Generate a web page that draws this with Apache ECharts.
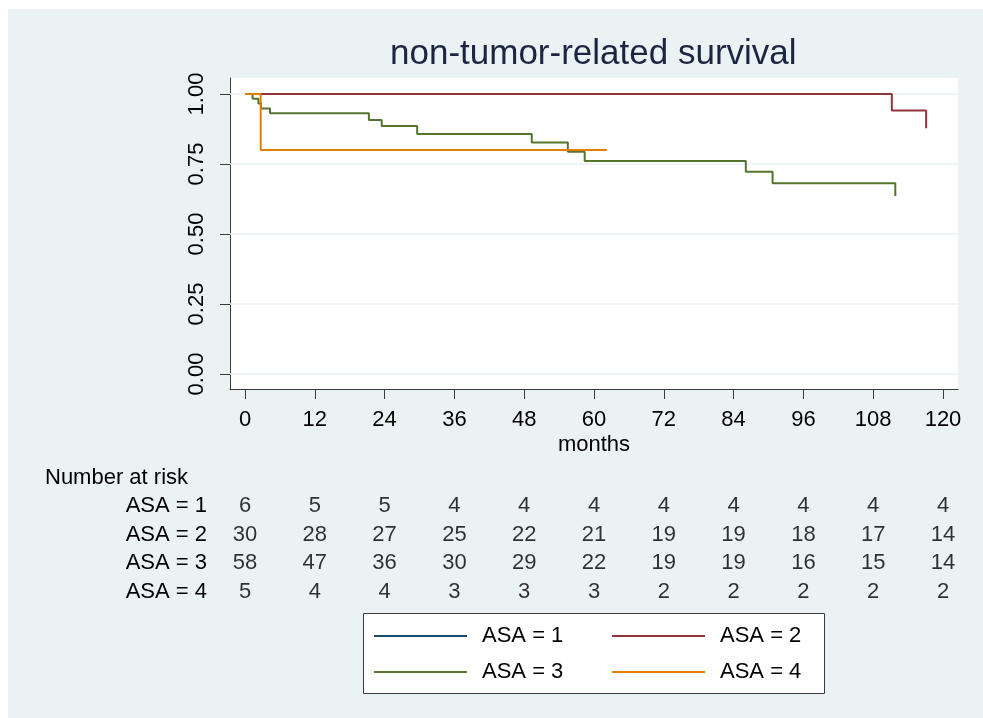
<!DOCTYPE html>
<html>
<head>
<meta charset="utf-8">
<script src="https://cdn.jsdelivr.net/npm/echarts/dist/echarts.min.js"></script>
<style>
html,body{margin:0;padding:0;background:#ffffff;}
#c{position:absolute;left:8px;top:9px;width:975px;height:709px;}
</style>
</head>
<body>
<div id="c"></div>
<script>
// ---- data ----
const groups = ['ASA = 1', 'ASA = 2', 'ASA = 3', 'ASA = 4'];
const asa1Time = [0, 110];
const asa1Surv = [1, 1];
const asa2Time = [0, 111.2, 117.1];
const asa2Surv = [1, 0.941, 0.878];
const asa3Time = [0, 1.3, 2.3, 2.75, 4.3, 21.3, 23.5, 29.6, 49.3, 55.5, 58.4, 86.1, 90.7, 111.8];
const asa3Surv = [1, 0.983, 0.966, 0.948, 0.931, 0.907, 0.886, 0.857, 0.827, 0.794, 0.761, 0.722, 0.681, 0.636];
const asa4Time = [0, 2.7, 62.2];
const asa4Surv = [1, 0.8, 0.8];
const xTicks = [0, 12, 24, 36, 48, 60, 72, 84, 96, 108, 120];
const yTicks = [0, 0.25, 0.5, 0.75, 1];
const riskAsa1 = [6, 5, 5, 4, 4, 4, 4, 4, 4, 4, 4];
const riskAsa2 = [30, 28, 27, 25, 22, 21, 19, 19, 18, 17, 14];
const riskAsa3 = [58, 47, 36, 30, 29, 22, 19, 19, 16, 15, 14];
const riskAsa4 = [5, 4, 4, 3, 3, 3, 2, 2, 2, 2, 2];
const titleText = 'non-tumor-related survival';
const xName = 'months';
const riskTitle = 'Number at risk';

// ---- style ----
const colors = ['#1a476f', '#90353b', '#55752f', '#e37e00'];
const FF = 'Liberation Sans, Arial, sans-serif';
const X_MIN = -2.579, X_MAX = 122.579;
const Y_MIN = -0.0536, Y_MAX = 1.0571;

const times = [asa1Time, asa2Time, asa3Time, asa4Time];
const survs = [asa1Surv, asa2Surv, asa3Surv, asa4Surv];
const risks = [riskAsa1, riskAsa2, riskAsa3, riskAsa4];

const chart = echarts.init(document.getElementById('c'), null, {renderer: 'canvas'});

const series = [];
groups.forEach((g, k) => {
  const s = {
    name: g,
    type: 'line',
    xAxisIndex: 0, yAxisIndex: 0,
    step: 'end',
    symbol: 'none',
    showSymbol: false,
    clip: false,
    z: 3,
    lineStyle: {color: colors[k], width: 2},
    itemStyle: {color: colors[k]},
    data: times[k].map((t, i) => [t, survs[k][i]])
  };
  if (k === 0) {
    s.markLine = {
      silent: true,
      z: 1,
      symbol: ['none', 'none'],
      label: {show: false},
      lineStyle: {color: '#eaf2f3', width: 1.5, type: 'solid'},
      emphasis: {disabled: true},
      data: yTicks.map(v => ({yAxis: v}))
    };
  }
  series.push(s);
});

risks.forEach((r, k) => {
  series.push({
    name: 'risk' + (k + 1),
    type: 'scatter',
    xAxisIndex: 1, yAxisIndex: 1,
    symbolSize: 1,
    itemStyle: {color: 'rgba(0,0,0,0)'},
    silent: true,
    label: {
      show: true, position: 'inside',
      formatter: p => String(p.value[2]),
      fontSize: 22, fontFamily: FF, color: '#000'
    },
    data: xTicks.map((t, i) => [t, groups[k], r[i]])
  });
});

const legendCommon = {
  orient: 'vertical',
  top: 615,
  itemGap: 12,
  itemWidth: 93,
  itemHeight: 2,
  icon: 'rect',
  padding: 0,
  selectedMode: false,
  textStyle: {fontSize: 22, lineHeight: 24, color: '#000', fontFamily: FF, padding: [0, 0, 0, 10]}
};

const option = {
  animation: false,
  backgroundColor: '#eaf2f3',
  title: [
    {text: titleText, left: 382, top: 28, padding: 0,
     textStyle: {fontSize: 35, fontWeight: 'normal', color: '#1c2541', fontFamily: FF}},
    {text: riskTitle, left: 37, top: 458, padding: 0,
     textStyle: {fontSize: 22, fontWeight: 'normal', color: '#000', fontFamily: FF}}
  ],
  legend: [
    Object.assign({}, legendCommon, {left: 366, data: [groups[0], groups[2]]}),
    Object.assign({}, legendCommon, {left: 604, data: [groups[1], groups[3]]})
  ],
  graphic: [{
    type: 'rect', z: 1,
    shape: {x: 355.5, y: 604.5, width: 461, height: 80},
    style: {fill: '#ffffff', stroke: '#3a3a3a', lineWidth: 1}
  }],
  grid: [
    {left: 222, top: 69, width: 728, height: 311, show: true, backgroundColor: '#ffffff', borderWidth: 0},
    {left: 222, top: 483, width: 728, height: 114, show: false}
  ],
  xAxis: [
    {type: 'value', gridIndex: 0, min: X_MIN, max: X_MAX,
     name: xName, nameLocation: 'middle', nameGap: 45,
     nameTextStyle: {fontSize: 22, color: '#000', fontFamily: FF},
     axisLine: {show: true, onZero: false, lineStyle: {color: '#3a3a3a', width: 1}},
     axisTick: {show: true, length: 10, customValues: xTicks, lineStyle: {color: '#3a3a3a'}},
     axisLabel: {show: true, customValues: xTicks, margin: 20, fontSize: 22, color: '#000', fontFamily: FF, hideOverlap: false},
     splitLine: {show: false}},
    {type: 'value', gridIndex: 1, min: X_MIN, max: X_MAX, show: false}
  ],
  yAxis: [
    {type: 'value', gridIndex: 0, min: Y_MIN, max: Y_MAX,
     axisLine: {show: true, onZero: false, lineStyle: {color: '#3a3a3a', width: 1}},
     axisTick: {show: true, length: 10, customValues: yTicks, lineStyle: {color: '#3a3a3a'}},
     axisLabel: {show: true, customValues: yTicks, rotate: 90, margin: 22, fontSize: 22, color: '#000', fontFamily: FF,
                 formatter: v => Number(v).toFixed(2), hideOverlap: false},
     splitLine: {show: false}},
    {type: 'category', gridIndex: 1, data: groups, inverse: true,
     axisLine: {show: false}, axisTick: {show: false}, splitLine: {show: false},
     axisLabel: {show: true, interval: 0, margin: 23, fontSize: 22, color: '#000', fontFamily: FF}}
  ],
  series: series
};
chart.setOption(option);
</script>
</body>
</html>
